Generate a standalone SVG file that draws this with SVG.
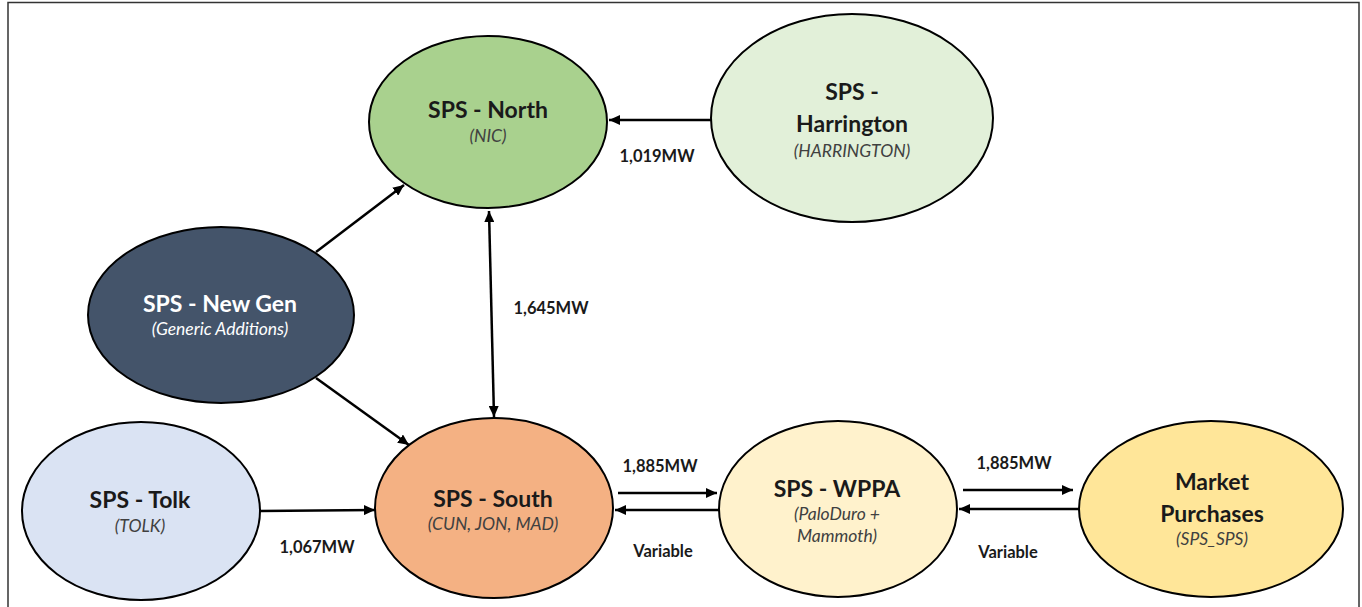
<svg xmlns="http://www.w3.org/2000/svg" width="1362" height="607" viewBox="0 0 1362 607">
<defs>
<marker id="ah" markerUnits="userSpaceOnUse" markerWidth="12" markerHeight="10" refX="11" refY="5" orient="auto-start-reverse">
<path d="M0,0 L11,5 L0,10 Z" fill="#000"/>
</marker>
<style>
.node{stroke:#000;stroke-width:2}
.t{font-family:Lato,"Open Sans","Liberation Sans",sans-serif;font-weight:bold;font-size:23px;fill:#1a1a1a;text-anchor:middle}
.s{font-family:Lato,"Open Sans","Liberation Sans",sans-serif;font-style:italic;font-size:17.5px;fill:#404040;text-anchor:middle}
.lbl{font-family:Lato,"Open Sans","Liberation Sans",sans-serif;font-weight:bold;font-size:16.5px;fill:#1a1a1a;text-anchor:middle}
.c{stroke:#000;stroke-width:2.5;fill:none;marker-end:url(#ah)}
</style>
</defs>
<rect x="0" y="0" width="1362" height="607" fill="#fff"/>
<rect x="8" y="2.5" width="1351" height="620" fill="none" stroke="#333" stroke-width="1.5"/>

<g id="connectors">
<line class="c" x1="712" y1="120" x2="609" y2="120"/>
<line class="c" x1="316" y1="252" x2="404" y2="185"/>
<line class="c" x1="316" y1="378" x2="409" y2="445"/>
<line class="c" x1="494" y1="417" x2="489" y2="211" style="marker-start:url(#ah)"/>
<line class="c" x1="260" y1="511" x2="375" y2="510"/>
<line class="c" x1="618" y1="493" x2="717" y2="493"/>
<line class="c" x1="719" y1="510" x2="615" y2="510"/>
<line class="c" x1="963" y1="490" x2="1073" y2="490"/>
<line class="c" x1="1079" y1="509" x2="959" y2="509"/>
<text class="lbl" x="657" y="162">1,019MW</text>
<text class="lbl" x="551" y="314">1,645MW</text>
<text class="lbl" x="660" y="472">1,885MW</text>
<text class="lbl" x="663" y="557">Variable</text>
<text class="lbl" x="1014" y="469">1,885MW</text>
<text class="lbl" x="1008" y="558">Variable</text>
<text class="lbl" x="317" y="553">1,067MW</text>
</g>

<g id="north">
<ellipse class="node" cx="488" cy="122" rx="119" ry="86" fill="#A9D18E"/>
<text class="t" x="488" y="118">SPS - North</text>
<text class="s" x="488" y="142">(NIC)</text>
</g>
<g id="harrington">
<ellipse class="node" cx="852" cy="118" rx="141" ry="104" fill="#E2F0D9"/>
<text class="t" x="852" y="100">SPS -</text>
<text class="t" x="852" y="132">Harrington</text>
<text class="s" x="852" y="157">(HARRINGTON)</text>
</g>
<g id="newgen">
<ellipse class="node" cx="221" cy="315" rx="133" ry="88" fill="#44546A"/>
<text class="t" x="220" y="312" style="fill:#fff">SPS - New Gen</text>
<text class="s" x="220" y="335" style="fill:#fff">(Generic Additions)</text>
</g>
<g id="tolk">
<ellipse class="node" cx="141" cy="511" rx="119" ry="89" fill="#DAE3F3"/>
<text class="t" x="140" y="508">SPS - Tolk</text>
<text class="s" x="140" y="532">(TOLK)</text>
</g>
<g id="south">
<ellipse class="node" cx="494" cy="508" rx="119" ry="90" fill="#F4B183"/>
<text class="t" x="493" y="507">SPS - South</text>
<text class="s" x="493" y="530">(CUN, JON, MAD)</text>
</g>
<g id="wppa">
<ellipse class="node" cx="838" cy="509" rx="119" ry="88" fill="#FFF2CC"/>
<text class="t" x="837" y="497">SPS - WPPA</text>
<text class="s" x="837" y="520">(PaloDuro +</text>
<text class="s" x="837" y="542">Mammoth)</text>
</g>
<g id="market">
<ellipse class="node" cx="1211" cy="509" rx="132" ry="88" fill="#FFE699"/>
<text class="t" x="1212" y="490">Market</text>
<text class="t" x="1212" y="522">Purchases</text>
<text class="s" x="1212" y="545">(SPS_SPS)</text>
</g>
</svg>
